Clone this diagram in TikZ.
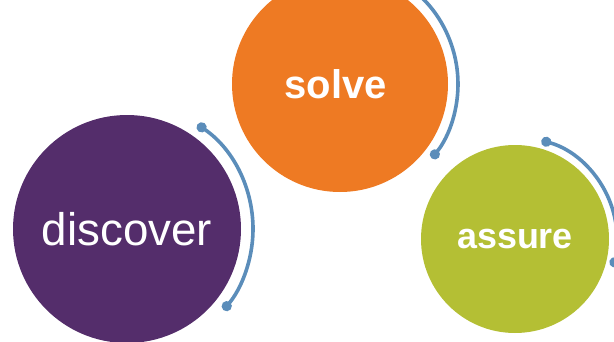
\documentclass[tikz,border=0pt]{standalone}
\usepackage{fontspec}
\setsansfont{Liberation Sans}
\usepackage{tikz}
\usetikzlibrary{arrows.meta,calc}

\definecolor{discpurple}{HTML}{542D6B}
\definecolor{solveorange}{HTML}{EE7A23}
\definecolor{assuregreen}{HTML}{B4BF34}
\definecolor{ringblue}{HTML}{5B8DBA}

\begin{document}
\begin{tikzpicture}[x=1pt,y=1pt,
  main node/.style={circle,inner sep=0pt,text=white,font=\sffamily},
  ring arc/.style={draw=ringblue,line width=3.6pt,{Circle[length=10pt]}-{Circle[length=10pt]}}]
  \useasboundingbox (0,0) rectangle (614,341);
  \clip (0,0) rectangle (614,341);

  \node[main node,fill=discpurple,minimum size=228pt,font=\sffamily\fontsize{45.7}{50}\selectfont] (disc) at (127,112) {discover};
  \node[main node,fill=solveorange,minimum size=216pt,
    label={[text=white,xshift=-4.5pt,yshift=-0.5pt,font=\sffamily\bfseries\fontsize{40}{44}\selectfont]center:solve}] (solve) at (340,257) {};
  \node[main node,fill=assuregreen,minimum size=188pt,font=\sffamily\bfseries\fontsize{35.9}{40}\selectfont] (assure) at (515,102) {assure};

  % rings round the right side of each circle
  \draw[ring arc] ([shift={(56:126)}]disc.center) arc[start angle=56,end angle=-40,radius=126];
  \draw[ring arc] ([shift={(62:118)}]solve.center) arc[start angle=62,end angle=-39,radius=118];
  \draw[ring arc] ([shift={(75:102)}]assure.center) arc[start angle=75,end angle=-16,radius=102];
\end{tikzpicture}
\end{document}
